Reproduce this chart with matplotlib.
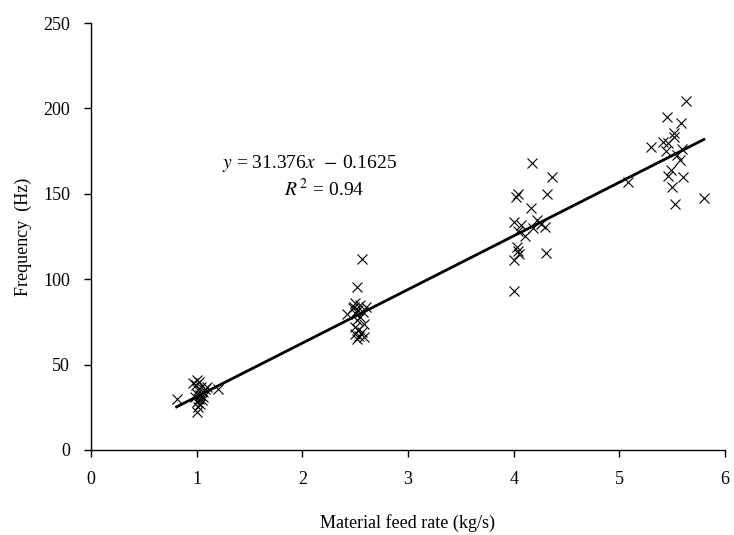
import numpy as np
import matplotlib
matplotlib.use('Agg')
import matplotlib.pyplot as plt

feed_1 = [0.81, 1.20, 1.00, 1.00, 1.02, 0.99, 1.04, 1.01, 1.06, 1.00, 1.03, 1.08,
          0.98, 1.02, 1.05, 1.00, 1.03, 1.01, 1.10, 0.97, 1.06]
freq_1 = [29.7, 35.5, 22.4, 41, 40, 38, 37, 35, 34, 33, 32, 36,
          31, 30, 29, 28, 27, 25, 37, 39, 31]

feed_2 = [2.56, 2.52, 2.42, 2.50, 2.55, 2.60, 2.48, 2.53, 2.57, 2.50, 2.55, 2.52,
          2.58, 2.50, 2.53, 2.56, 2.50, 2.54, 2.58, 2.52, 2.49]
freq_2 = [111.6, 95.6, 79.6, 86, 85, 84, 83, 82, 81, 80, 78, 76,
          74, 72, 70, 69, 68, 67, 66, 65, 84]

feed_3 = [4.17, 4.36, 4.04, 4.02, 4.32, 4.16, 4.00, 4.22, 4.07, 4.30, 4.26, 4.04,
          4.11, 4.18, 4.03, 4.05, 4.04, 4.00, 4.31, 4.00]
freq_3 = [168.1, 159.6, 149.6, 148, 149.6, 141.4, 133.6, 134.6, 131.6, 130.3, 132.6, 128.3,
          125.5, 129.7, 119, 115, 116.5, 111, 115.2, 93]

feed_4 = [5.63, 5.45, 5.58, 5.52, 5.52, 5.30, 5.41, 5.46, 5.44, 5.59, 5.55, 5.57,
          5.49, 5.46, 5.60, 5.50, 5.08, 5.53, 5.80]
freq_4 = [204.4, 195, 191.5, 185.7, 183.3, 177.5, 180.4, 179.8, 175.1, 176, 172.6, 169.7,
          163.8, 160.3, 159.6, 153.7, 157, 143.8, 147.3]

# trendline shown on the chart
slope = 31.376
intercept = -0.1625
r_squared = 0.94

x_ticks = [0, 1, 2, 3, 4, 5, 6]
y_ticks = [0, 50, 100, 150, 200, 250]

plt.rcParams['font.family'] = ['Liberation Serif', 'DejaVu Serif']
plt.rcParams['mathtext.fontset'] = 'stix'

feed = np.concatenate([feed_1, feed_2, feed_3, feed_4])
freq = np.concatenate([freq_1, freq_2, freq_3, freq_4])

fig = plt.figure(figsize=(7.34, 5.35), dpi=100)
ax = fig.add_axes([91 / 734, 85 / 535, 634 / 734, 427 / 535])

ax.plot(feed, freq, linestyle='none', marker='x', color='black',
        markersize=7, markeredgewidth=0.8)

# regression line over the range of the data
xl = np.array([feed.min(), feed.max()])
ax.plot(xl, slope * xl + intercept, color='black', linewidth=2)

ax.text(2.07, 168, r'$y$ = 31.376$x$  $-$ 0.1625', ha='center', va='center', fontsize=14)
ax.text(2.21, 153, r'$R^{\,2}$ = %.2f' % r_squared, ha='center', va='center', fontsize=14)

ax.set_xlim(0, 6)
ax.set_ylim(0, 250)
ax.set_xticks(x_ticks)
ax.set_yticks(y_ticks)
ax.tick_params(direction='out', length=5, width=1, labelsize=13, colors='black', pad=10)
for side in ['top', 'right']:
    ax.spines[side].set_visible(False)
for side in ['left', 'bottom']:
    ax.spines[side].set_linewidth(1)

ax.set_xlabel('Material feed rate (kg/s)', fontsize=13, labelpad=19)
ax.set_ylabel('Frequency  (Hz)', fontsize=13, labelpad=8)

fig.savefig('out.png', dpi=100)
